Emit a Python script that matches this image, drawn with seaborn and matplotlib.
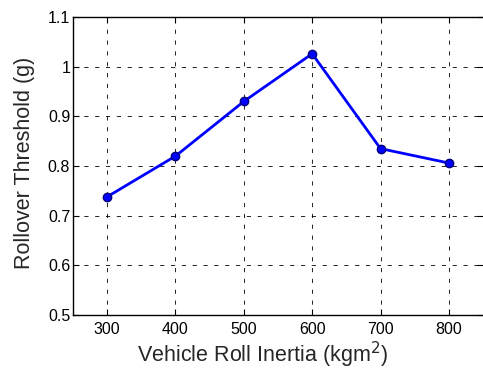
import matplotlib
matplotlib.use("Agg")
import matplotlib.pyplot as plt
import seaborn as sns
import pandas as pd

inertia = [300, 400, 500, 600, 700, 800]
threshold = [0.738, 0.820, 0.930, 1.026, 0.835, 0.806]
xticks = [300, 400, 500, 600, 700, 800]
yticks = [0.5, 0.6, 0.7, 0.8, 0.9, 1.0, 1.1]
ytick_labels = ["0.5", "0.6", "0.7", "0.8", "0.9", "1", "1.1"]

sns.set_style("white")
plt.rcParams['font.family'] = ['Liberation Sans', 'DejaVu Sans']

df = pd.DataFrame({"x": inertia, "y": threshold})

fig = plt.figure(figsize=(4.83, 3.69), dpi=100)
ax = fig.add_axes([73/483, 1-315/369, (483-73)/483, (315-17)/369])

sns.lineplot(data=df, x="x", y="y", ax=ax, color="#0000ff", linewidth=2.0,
             marker="o", markersize=6, markerfacecolor="#0000ff",
             markeredgecolor="#00007a", markeredgewidth=1.0)

ax.set_xlim(250, 850)
ax.set_ylim(0.5, 1.1)
ax.set_xticks(xticks)
ax.set_yticks(yticks)
ax.set_yticklabels(ytick_labels)
ax.grid(True, color="black", linestyle=(0, (5, 8)), linewidth=0.6)
ax.tick_params(direction="in", length=4, width=0.8, labelsize=11.5, colors="black",
               top=True, right=True, bottom=True, left=True)
ax.tick_params(axis="x", pad=5)
ax.tick_params(axis="y", pad=2)
for s in ax.spines.values():
    s.set_color("black")
    s.set_linewidth(1.0)
ax.spines["right"].set_visible(False)

ax.set_xlabel("Vehicle Roll Inertia (kgm$^2$)", fontsize=15.5)
ax.set_ylabel("Rollover Threshold (g)", fontsize=15.5)
ax.xaxis.set_label_coords(0.463, -0.083)
ax.yaxis.set_label_coords(-0.093, 0.512)

fig.savefig("out.png", dpi=100)
